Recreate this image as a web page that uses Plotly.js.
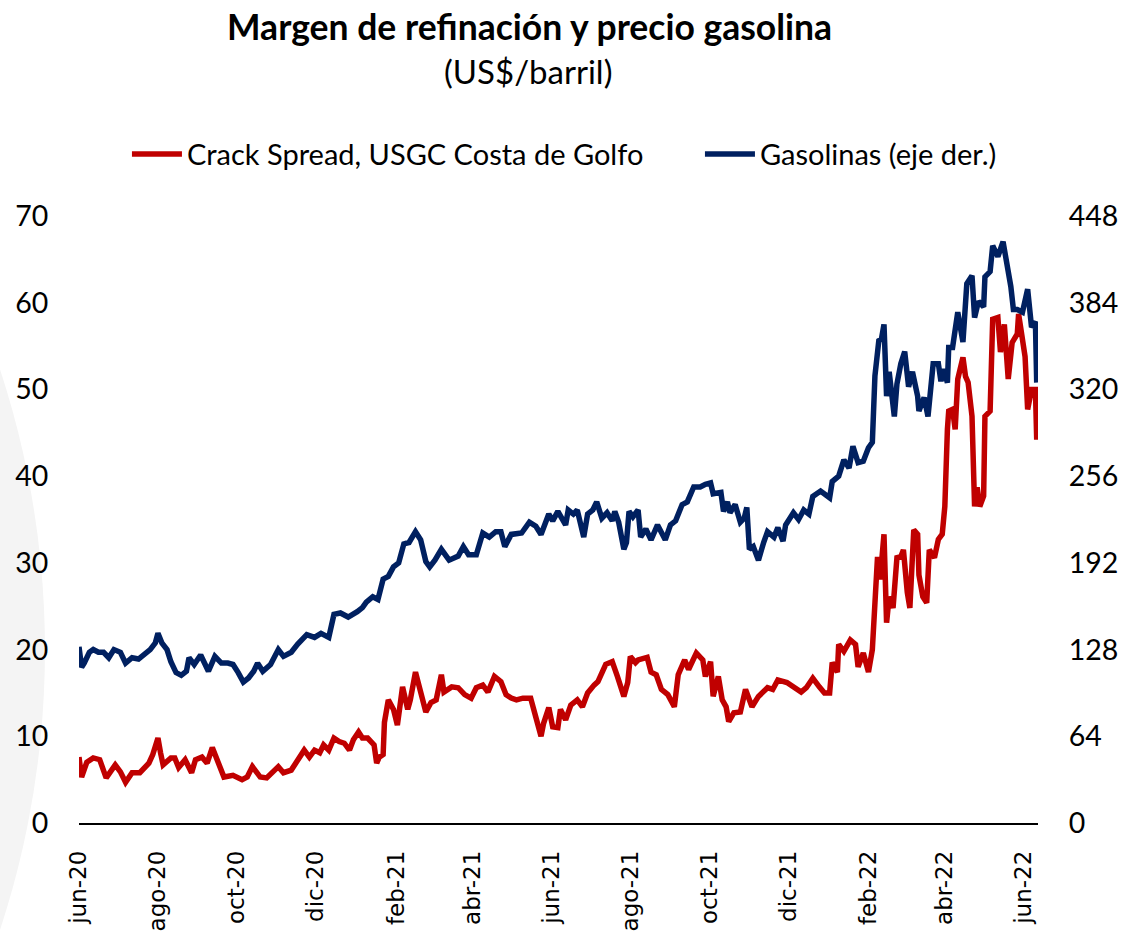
<!DOCTYPE html>
<html>
<head>
<meta charset="utf-8">
<script src="https://cdn.plot.ly/plotly-3.0.1.min.js"></script>
<style>html,body{margin:0;padding:0;background:#fff;}</style>
</head>
<body>
<div id="chart" style="width:1122px;height:933px;"></div>
<script>
// Crack Spread, USGC Costa de Golfo (US$/barril, eje izq.)
const fechasCrack = [
'2020-06-01','2020-06-03','2020-06-07','2020-06-12','2020-06-17','2020-06-22','2020-06-29','2020-07-03','2020-07-07','2020-07-12',
'2020-07-18','2020-07-25','2020-07-28','2020-08-01','2020-08-03','2020-08-05','2020-08-11','2020-08-14','2020-08-17','2020-08-22',
'2020-08-27','2020-08-30','2020-09-04','2020-09-08','2020-09-12','2020-09-15','2020-09-21','2020-09-28','2020-10-05','2020-10-09',
'2020-10-13','2020-10-19','2020-10-24','2020-11-02','2020-11-06','2020-11-12','2020-11-17','2020-11-22','2020-11-26','2020-11-30',
'2020-12-04','2020-12-07','2020-12-11','2020-12-15','2020-12-19','2020-12-23','2020-12-27','2020-12-30','2021-01-03','2021-01-06',
'2021-01-10','2021-01-13','2021-01-15','2021-01-17','2021-01-19','2021-01-22','2021-01-23','2021-01-26','2021-01-30','2021-02-02',
'2021-02-06','2021-02-10','2021-02-12','2021-02-16','2021-02-20','2021-02-24','2021-02-28','2021-03-04','2021-03-08','2021-03-10',
'2021-03-16','2021-03-21','2021-03-26','2021-03-31','2021-04-04','2021-04-09','2021-04-13','2021-04-18','2021-04-23','2021-04-27',
'2021-05-01','2021-05-05','2021-05-10','2021-05-16','2021-05-20','2021-05-24','2021-05-26','2021-05-30','2021-06-02','2021-06-06',
'2021-06-08','2021-06-12','2021-06-16','2021-06-21','2021-06-25','2021-06-29','2021-07-04','2021-07-07','2021-07-13','2021-07-18',
'2021-07-22','2021-07-27','2021-07-30','2021-08-01','2021-08-05','2021-08-07','2021-08-14','2021-08-17','2021-08-21','2021-08-25',
'2021-08-30','2021-09-04','2021-09-07','2021-09-12','2021-09-15','2021-09-21','2021-09-26','2021-09-28','2021-10-02','2021-10-04',
'2021-10-08','2021-10-11','2021-10-14','2021-10-16','2021-10-20','2021-10-25','2021-10-29','2021-11-03','2021-11-08','2021-11-15',
'2021-11-19','2021-11-23','2021-11-30','2021-12-05','2021-12-11','2021-12-15','2021-12-20','2021-12-25','2021-12-29','2022-01-02',
'2022-01-04','2022-01-08','2022-01-09','2022-01-13','2022-01-18','2022-01-22','2022-01-24','2022-01-28','2022-02-01','2022-02-04',
'2022-02-08','2022-02-10','2022-02-13','2022-02-15','2022-02-17','2022-02-20','2022-02-23','2022-02-26','2022-02-28','2022-03-03',
'2022-03-05','2022-03-08','2022-03-11','2022-03-12','2022-03-15','2022-03-18','2022-03-20','2022-03-24','2022-03-27','2022-03-30',
'2022-04-01','2022-04-03','2022-04-04','2022-04-07','2022-04-09','2022-04-11','2022-04-14','2022-04-15','2022-04-17','2022-04-19',
'2022-04-22','2022-04-24','2022-04-26','2022-04-28','2022-05-01','2022-05-02','2022-05-06','2022-05-08','2022-05-12','2022-05-14',
'2022-05-17','2022-05-20','2022-05-23','2022-05-27','2022-05-28','2022-06-02','2022-06-04','2022-06-07','2022-06-10','2022-06-11'
];
const crack = [
7.6,5.3,7.0,7.5,7.3,5.2,6.7,5.9,4.7,5.8,
5.8,6.9,7.9,9.8,8.1,6.7,7.5,7.5,6.4,7.3,
5.8,7.3,7.6,6.9,8.7,7.6,5.3,5.5,5.0,5.3,
6.5,5.3,5.2,6.5,5.8,6.1,7.3,8.4,7.6,8.4,
8.1,9.0,8.4,9.8,9.4,9.2,8.4,9.6,10.5,9.8,
9.8,9.2,9.0,6.9,7.6,7.9,11.6,14.2,13.1,11.3,
15.7,13.1,14.2,17.4,15.0,12.8,13.9,14.2,17.1,15.1,
15.7,15.6,14.8,14.4,15.6,15.9,15.1,16.9,16.3,14.8,
14.4,14.2,14.4,14.4,12.2,10.0,11.5,13.3,11.1,11.0,
13.1,11.9,13.6,14.2,13.4,15.0,15.9,16.3,18.3,18.6,
16.9,14.6,16.2,19.2,18.5,18.8,19.1,17.4,17.1,15.4,
14.8,13.4,17.1,18.8,17.7,19.6,18.8,16.9,18.6,14.6,
16.9,14.2,13.4,11.7,12.7,12.8,15.4,13.4,14.6,15.6,
15.4,16.5,16.2,15.7,15.1,15.6,16.7,15.7,15.0,15.0,
18.5,17.4,20.6,19.8,21.1,20.6,18.0,19.6,17.4,20.0,
30.7,28.1,33.3,23.1,26.1,24.8,30.6,30.7,31.5,26.6,
24.8,33.8,33.3,28.6,26.1,25.4,31.5,30.6,32.7,33.3,
36.5,45.4,47.5,47.7,45.4,51.2,53.1,53.7,51.5,50.8,
46.9,36.5,38.7,36.5,37.7,46.9,47.5,58.1,58.3,54.3,
57.5,51.2,55.4,56.4,58.7,53.8,47.7,50.0,50.0,44.2
];

// Gasolinas (US$/barril, eje der.)
const fechasGasolina = [
'2020-06-01','2020-06-03','2020-06-05','2020-06-09','2020-06-12','2020-06-16','2020-06-20','2020-06-24','2020-06-28','2020-07-03',
'2020-07-07','2020-07-12','2020-07-17','2020-07-21','2020-07-26','2020-07-30','2020-08-01','2020-08-04','2020-08-08','2020-08-11',
'2020-08-15','2020-08-19','2020-08-23','2020-08-25','2020-08-29','2020-09-03','2020-09-09','2020-09-14','2020-09-19','2020-09-24',
'2020-09-28','2020-10-02','2020-10-06','2020-10-10','2020-10-14','2020-10-17','2020-10-21','2020-10-27','2020-11-02','2020-11-06',
'2020-11-12','2020-11-17','2020-11-24','2020-11-30','2020-12-05','2020-12-11','2020-12-15','2020-12-20','2020-12-26','2021-01-02',
'2021-01-06','2021-01-09','2021-01-14','2021-01-18','2021-01-22','2021-01-26','2021-01-30','2021-02-03','2021-02-07','2021-02-11',
'2021-02-16','2021-02-20','2021-02-24','2021-02-27','2021-03-03','2021-03-08','2021-03-14','2021-03-21','2021-03-25','2021-03-29',
'2021-04-04','2021-04-09','2021-04-14','2021-04-19','2021-04-23','2021-04-26','2021-05-01','2021-05-09','2021-05-15','2021-05-20',
'2021-05-24','2021-05-30','2021-06-02','2021-06-06','2021-06-12','2021-06-14','2021-06-18','2021-06-21','2021-06-26','2021-06-29',
'2021-07-03','2021-07-06','2021-07-10','2021-07-14','2021-07-18','2021-07-20','2021-07-23','2021-07-27','2021-07-29','2021-07-31',
'2021-08-03','2021-08-07','2021-08-09','2021-08-13','2021-08-17','2021-08-22','2021-08-28','2021-09-01','2021-09-05','2021-09-10',
'2021-09-14','2021-09-19','2021-09-24','2021-09-28','2021-10-02','2021-10-04','2021-10-10','2021-10-12','2021-10-15','2021-10-17',
'2021-10-21','2021-10-25','2021-10-28','2021-10-30','2021-11-01','2021-11-04','2021-11-08','2021-11-12','2021-11-15','2021-11-20',
'2021-11-23','2021-11-27','2021-11-29','2021-12-05','2021-12-09','2021-12-13','2021-12-17','2021-12-20','2021-12-26','2022-01-02',
'2022-01-04','2022-01-09','2022-01-13','2022-01-17','2022-01-20','2022-01-24','2022-01-28','2022-02-01','2022-02-04','2022-02-06',
'2022-02-09','2022-02-11','2022-02-13','2022-02-15','2022-02-17','2022-02-21','2022-02-23','2022-02-26','2022-03-01','2022-03-04',
'2022-03-07','2022-03-11','2022-03-12','2022-03-16','2022-03-19','2022-03-23','2022-03-27','2022-03-29','2022-03-31','2022-04-03',
'2022-04-04','2022-04-07','2022-04-09','2022-04-11','2022-04-15','2022-04-18','2022-04-22','2022-04-24','2022-04-27','2022-05-01',
'2022-05-02','2022-05-06','2022-05-08','2022-05-12','2022-05-16','2022-05-19','2022-05-22','2022-05-24','2022-05-27','2022-05-31',
'2022-06-04','2022-06-07','2022-06-10','2022-06-11'
];
const gasolina = [
130,115,118,126,128,126,126,122,128,126,
118,122,121,124,128,133,140,133,128,119,
111,109,112,122,117,124,112,123,118,118,
117,111,104,107,112,118,112,117,128,123,
126,132,139,137,140,137,154,155,152,156,
159,163,167,165,180,182,189,192,206,207,
215,209,193,189,194,202,194,197,204,198,
198,214,211,215,215,204,213,214,222,219,
213,228,223,230,220,231,228,231,211,228,
231,237,225,229,223,230,222,202,207,230,
226,231,211,217,209,220,209,220,223,235,
237,248,248,250,251,243,244,230,237,229,
235,222,225,233,202,204,194,207,215,211,
218,208,220,229,224,231,228,241,245,240,
252,256,268,262,278,266,267,277,281,330,
356,357,368,315,333,300,324,339,348,322,
333,315,304,314,300,339,339,326,335,325,
351,351,367,377,355,398,404,373,385,381,
403,407,426,418,429,415,396,379,379,377,
394,366,370,325
];

// Etiquetas del eje X
const ticksFecha = ['2020-06-01','2020-08-01','2020-10-01','2020-12-01','2021-02-01','2021-04-01','2021-06-01','2021-08-01','2021-10-01','2021-12-01','2022-02-01','2022-04-01','2022-06-01'];
const ticksTexto = ['jun-20','ago-20','oct-20','dic-20','feb-21','abr-21','jun-21','ago-21','oct-21','dic-21','feb-22','abr-22','jun-22'];
const ticksIzq = [0,10,20,30,40,50,60,70];
const ticksDer = [0,64,128,192,256,320,384,448];

const traces = [
  {
    x: fechasCrack, y: crack, type: 'scatter', mode: 'lines',
    name: 'Crack Spread, USGC Costa de Golfo', legendwidth: 508,
    line: {color: '#C00000', width: 5.5}, yaxis: 'y', hoverinfo: 'skip'
  },
  {
    x: fechasGasolina, y: gasolina, type: 'scatter', mode: 'lines',
    name: 'Gasolinas (eje der.)', legendwidth: 255,
    line: {color: '#002060', width: 5.5}, yaxis: 'y2', hoverinfo: 'skip'
  }
];

const layout = {
  width: 1122, height: 933,
  margin: {l: 79, r: 84, t: 216, b: 110, pad: 0},
  paper_bgcolor: '#ffffff',
  plot_bgcolor: 'rgba(0,0,0,0)',
  font: {family: 'Lato, sans-serif', color: '#000000'},
  title: {
    text: '<b>Margen de refinación y precio gasolina</b>',
    font: {family: 'Lato, sans-serif', size: 35.5, color: '#000000'},
    x: 0.472, xref: 'container', xanchor: 'center',
    y: 0.970, yref: 'container', yanchor: 'middle'
  },
  annotations: [{
    text: '(US$/barril)', xref: 'paper', yref: 'paper',
    x: 0.468, y: 1.239, xanchor: 'center', yanchor: 'middle',
    showarrow: false, font: {family: 'Lato, sans-serif', size: 33, color: '#000000'}
  }],
  showlegend: true,
  legend: {
    orientation: 'h', x: 0.050, xanchor: 'left', y: 1.102, yanchor: 'middle',
    font: {family: 'Lato, sans-serif', size: 29, color: '#000000'},
    itemwidth: 50, entrywidthmode: 'pixels', traceorder: 'normal',
    bgcolor: 'rgba(0,0,0,0)'
  },
  xaxis: {
    type: 'date', range: ['2020-06-01', '2022-06-12'],
    tickmode: 'array', tickvals: ticksFecha, ticktext: ticksTexto,
    tickangle: -90, tickfont: {family: 'DejaVu Sans, sans-serif', size: 23, color: '#000000'},
    showline: true, linecolor: '#000000', linewidth: 1.5,
    showgrid: false, zeroline: false,
    ticks: 'outside', ticklen: 17, tickcolor: 'rgba(0,0,0,0)'
  },
  yaxis: {
    range: [0, 70], tickmode: 'array', tickvals: ticksIzq,
    tickfont: {family: 'Lato, sans-serif', size: 28.5, color: '#000000'},
    showgrid: false, zeroline: false, showline: false,
    ticks: 'outside', ticklen: 24, tickcolor: 'rgba(0,0,0,0)'
  },
  yaxis2: {
    range: [0, 448], overlaying: 'y', side: 'right', tickmode: 'array', tickvals: ticksDer,
    tickfont: {family: 'Lato, sans-serif', size: 28.5, color: '#000000'},
    showgrid: false, zeroline: false, showline: false,
    ticks: 'outside', ticklen: 24, tickcolor: 'rgba(0,0,0,0)'
  },
  shapes: [{
    type: 'circle', xref: 'paper', yref: 'paper', layer: 'below',
    x0: -1.898, x1: -0.0355, y0: -1.188, y1: 1.759,
    fillcolor: '#f4f4f4', line: {width: 0}
  }]
};

Plotly.newPlot('chart', traces, layout, {displayModeBar: false, staticPlot: true});
</script>
</body>
</html>
